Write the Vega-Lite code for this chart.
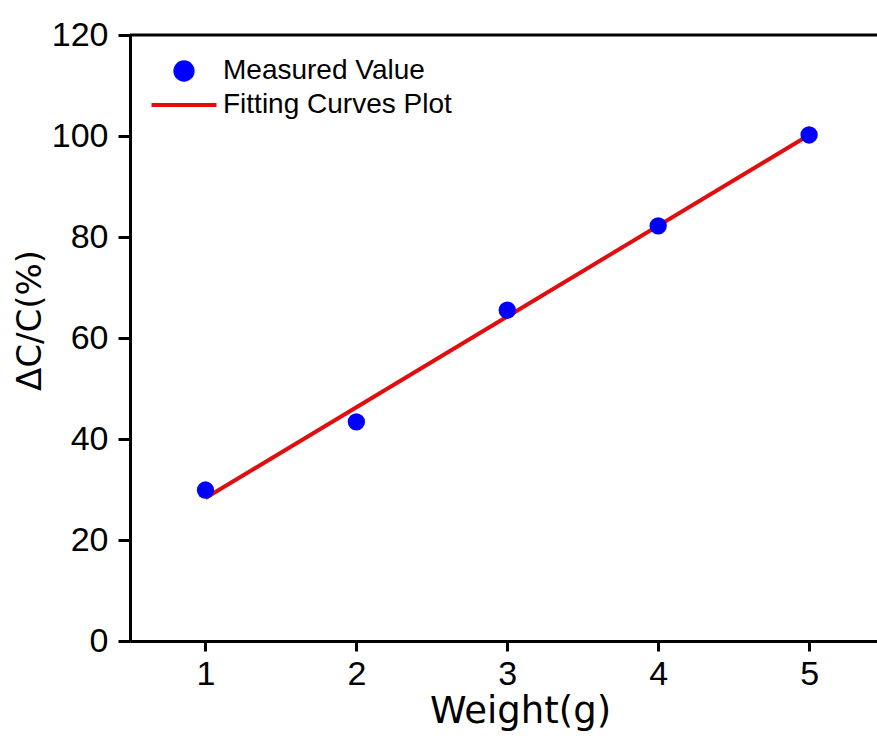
{
  "$schema": "https://vega.github.io/schema/vega-lite/v6.json",
  "width": 747,
  "height": 606,
  "autosize": {"type": "none"},
  "padding": {"left": 130, "top": 35, "right": 0, "bottom": 110},
  "background": "white",
  "config": {"view": {"stroke": null}, "font": "Liberation Sans"},
  "datasets": {
    "measured": [
      {"weight": 1, "value": 29.9, "series": "Measured Value"},
      {"weight": 2, "value": 43.4, "series": "Measured Value"},
      {"weight": 3, "value": 65.5, "series": "Measured Value"},
      {"weight": 4, "value": 82.2, "series": "Measured Value"},
      {"weight": 5, "value": 100.2, "series": "Measured Value"}
    ],
    "fit": [
      {"weight": 1, "value": 28.3, "series": "Fitting Curves Plot"},
      {"weight": 5, "value": 100.2, "series": "Fitting Curves Plot"}
    ],
    "frame": [{"value": 120}]
  },
  "layer": [
    {
      "data": {"name": "frame"},
      "mark": {"type": "rule", "stroke": "black", "strokeWidth": 3},
      "encoding": {
        "y": {"field": "value", "type": "quantitative", "title": "\u0394C/C(%)",
              "scale": {"domain": [0, 120], "nice": false, "zero": true}}
      }
    },
    {
      "data": {"name": "fit"},
      "mark": {"type": "line", "strokeWidth": 4},
      "encoding": {
        "x": {"field": "weight", "type": "quantitative", "title": "Weight(g)",
              "scale": {"domain": [0.5, 5.45], "nice": false, "zero": false}},
        "y": {"field": "value", "type": "quantitative", "title": "\u0394C/C(%)",
              "scale": {"domain": [0, 120], "nice": false, "zero": true}},
        "color": {"field": "series", "type": "nominal",
                  "scale": {"domain": ["Measured Value", "Fitting Curves Plot"], "range": ["#0000ff", "#e00e0e"]},
                  "legend": {"orient": "none", "legendX": 40, "legendY": 22, "title": null, "padding": 0,
                             "labelFontSize": 28, "labelFont": "Liberation Sans", "labelColor": "black", "labelLimit": 500,
                             "labelOffset": 25, "rowPadding": 3, "symbolSize": 300,
                             "encode": {"symbols": {"update": {
                               "shape": {"signal": "datum.value === 'Fitting Curves Plot' ? 'stroke' : 'circle'"},
                               "size": {"signal": "datum.value === 'Fitting Curves Plot' ? 4225 : 300"},
                               "strokeWidth": {"value": 4},
                               "fill": {"signal": "datum.value === 'Fitting Curves Plot' ? 'transparent' : '#0000ff'"},
                               "stroke": {"signal": "datum.value === 'Fitting Curves Plot' ? '#e00e0e' : 'transparent'"},
                               "opacity": {"value": 1}
                             }}}}}
      }
    },
    {
      "data": {"name": "measured"},
      "mark": {"type": "point", "filled": true, "size": 300, "opacity": 1},
      "encoding": {
        "x": {"field": "weight", "type": "quantitative", "title": "Weight(g)",
              "scale": {"domain": [0.5, 5.45], "nice": false, "zero": false},
              "axis": {"values": [1, 2, 3, 4, 5], "format": "d", "grid": false, "domainWidth": 3, "domainColor": "black",
                       "tickWidth": 3, "tickSize": 10, "tickColor": "black",
                       "labelFontSize": 34, "labelColor": "black", "labelPadding": 6, "labelFont": "Liberation Sans",
                       "titleFont": "DejaVu Sans", "titleFontSize": 37, "titleFontWeight": "normal", "titleColor": "black",
                       "titleX": 390, "titleAlign": "center", "titlePadding": 2}},
        "y": {"field": "value", "type": "quantitative", "title": "\u0394C/C(%)",
              "scale": {"domain": [0, 120], "nice": false, "zero": true},
              "axis": {"values": [0, 20, 40, 60, 80, 100, 120], "format": "d", "grid": false, "domainWidth": 3, "domainColor": "black",
                       "tickWidth": 3, "tickSize": 12, "tickColor": "black",
                       "labelFontSize": 34, "labelColor": "black", "labelPadding": 10, "labelFont": "Liberation Sans",
                       "titleFont": "DejaVu Sans", "titleFontSize": 34, "titleFontWeight": "normal", "titleColor": "black",
                       "titleX": -100, "titleY": 285, "titleAngle": -90, "titleAlign": "center", "titleBaseline": "middle"}},
        "color": {"field": "series", "type": "nominal",
                  "scale": {"domain": ["Measured Value", "Fitting Curves Plot"], "range": ["#0000ff", "#e00e0e"]},
                  "legend": {"orient": "none", "legendX": 40, "legendY": 22, "title": null, "padding": 0,
                             "labelFontSize": 28, "labelFont": "Liberation Sans", "labelColor": "black", "labelLimit": 500,
                             "labelOffset": 25, "rowPadding": 3, "symbolSize": 300,
                             "encode": {"symbols": {"update": {
                               "shape": {"signal": "datum.value === 'Fitting Curves Plot' ? 'stroke' : 'circle'"},
                               "size": {"signal": "datum.value === 'Fitting Curves Plot' ? 4225 : 300"},
                               "strokeWidth": {"value": 4},
                               "fill": {"signal": "datum.value === 'Fitting Curves Plot' ? 'transparent' : '#0000ff'"},
                               "stroke": {"signal": "datum.value === 'Fitting Curves Plot' ? '#e00e0e' : 'transparent'"},
                               "opacity": {"value": 1}
                             }}}}}
      }
    }
  ]
}
